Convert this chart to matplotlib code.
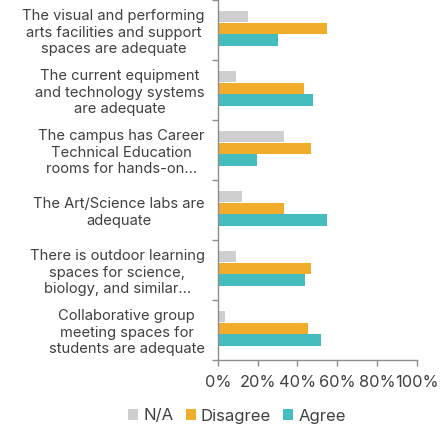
import numpy as np
import matplotlib.pyplot as plt
from matplotlib.ticker import FixedLocator, PercentFormatter

# ---- data ----
statements = [
    "The visual and performing\narts facilities and support\nspaces are adequate",
    "The current equipment\nand technology systems\nare adequate",
    "The campus has Career\nTechnical Education\nrooms for hands-on...",
    "The Art/Science labs are\nadequate",
    "There is outdoor learning\nspaces for science,\nbiology, and similar...",
    "Collaborative group\nmeeting spaces for\nstudents are adequate",
]
series_names = ["N/A", "Disagree", "Agree"]
na_vals = [15.3, 9.3, 33.4, 12.3, 9.3, 3.3]
disagree_vals = [54.7, 43.1, 47.0, 33.4, 47.0, 45.5]
agree_vals = [30.4, 47.6, 19.8, 54.7, 44.0, 51.7]
colors = ["#cfcfcf", "#f2ac2b", "#45bdbe"]

plt.rcParams['font.family'] = ['Inter', 'DejaVu Sans']
text_col = "#404040"

fig = plt.figure(figsize=(4.44, 4.26), dpi=100)
ax = fig.add_axes([218 / 444, 66 / 426, (416.7 - 218) / 444, 360 / 426])

y = np.arange(len(statements))
bar_h = 0.19
step = 0.197
for j, (vals, name) in enumerate(zip([na_vals, disagree_vals, agree_vals], series_names)):
    ax.barh(y - 0.028 + (j - 1) * step, vals, height=bar_h,
            color=colors[j], label=name)

ax.set_xlim(0, 100)
ax.set_ylim(len(statements) - 0.5, -0.5)

ax.set_yticks(y)
ax.set_yticklabels(statements, fontsize=10.6, color=text_col,
                   multialignment='center', linespacing=1.22)
ax.tick_params(axis='y', which='major', length=0, pad=9.5)
ax.yaxis.set_minor_locator(FixedLocator(np.arange(-0.5, len(statements), 1.0)))
ax.tick_params(axis='y', which='minor', length=4, color="#8c8c8c", width=1)

ax.set_xticks(np.arange(0, 101, 20))
ax.xaxis.set_major_formatter(PercentFormatter(decimals=0))
ax.tick_params(axis='x', length=4, color="#8c8c8c", width=1,
               labelsize=11.8, labelcolor=text_col, pad=7)

for s in ['top', 'right']:
    ax.spines[s].set_visible(False)
for s in ['left', 'bottom']:
    ax.spines[s].set_color("#8c8c8c")
    ax.spines[s].set_linewidth(1)

fig.legend(loc='center', bbox_to_anchor=(237 / 444, 1 - 416 / 426),
           ncol=3, frameon=False, fontsize=12, handlelength=0.6,
           handleheight=0.6, handletextpad=0.3, columnspacing=0.75,
           labelcolor=text_col)

plt.savefig('out.png', dpi=100)
